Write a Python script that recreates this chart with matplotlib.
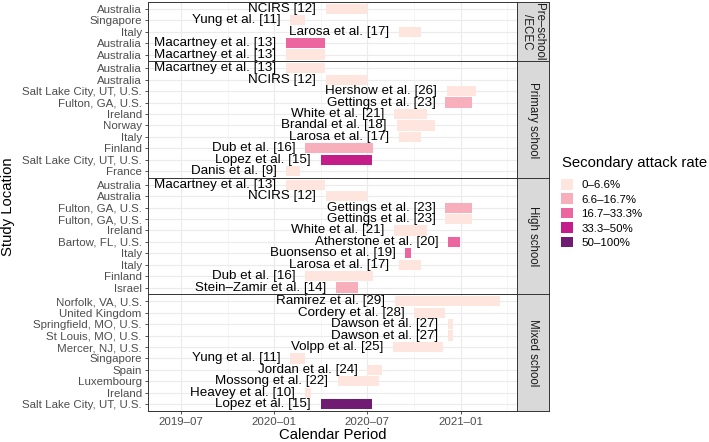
import matplotlib
matplotlib.use("Agg")
import matplotlib.pyplot as plt
import matplotlib.dates as mdates
from matplotlib.patches import Patch
import pandas as pd

plt.rcParams['font.family'] = ['Liberation Sans', 'DejaVu Sans']

# Secondary attack rate classes and colours
sar_levels = ['0–6.6%', '6.6–16.7%', '16.7–33.3%', '33.3–50%', '50–100%']
sar_colors = ['#FEE5DE', '#F7AFBB', '#EC659F', '#C41D8A', '#701C73']

facet_names = ['Pre–school\n/ECEC', 'Primary school', 'High school', 'Mixed school']

# Pre-school / ECEC
pre_loc = ['Australia', 'Singapore', 'Italy', 'Australia', 'Australia']
pre_study = ['NCIRS [12]', 'Yung et al. [11]', 'Larosa et al. [17]',
             'Macartney et al. [13]', 'Macartney et al. [13]']
pre_start = ['2020-04-11', '2020-02-01', '2020-09-01', '2020-01-24', '2020-01-24']
pre_end = ['2020-07-01', '2020-03-01', '2020-10-14', '2020-04-09', '2020-04-09']
pre_sar = ['0–6.6%', '0–6.6%', '0–6.6%', '16.7–33.3%', '0–6.6%']

# Primary school
pri_loc = ['Australia', 'Australia', 'Salt Lake City, UT, U.S.', 'Fulton, GA, U.S.',
           'Ireland', 'Norway', 'Italy', 'Finland', 'Salt Lake City, UT, U.S.', 'France']
pri_study = ['Macartney et al. [13]', 'NCIRS [12]', 'Hershow et al. [26]',
             'Gettings et al. [23]', 'White et al. [21]', 'Brandal et al. [18]',
             'Larosa et al. [17]', 'Dub et al. [16]', 'Lopez et al. [15]', 'Danis et al. [9]']
pri_start = ['2020-01-24', '2020-04-11', '2020-12-04', '2020-12-01', '2020-08-22',
             '2020-08-28', '2020-09-01', '2020-03-01', '2020-04-01', '2020-01-24']
pri_end = ['2020-04-09', '2020-07-01', '2021-01-30', '2021-01-22', '2020-10-27',
           '2020-11-11', '2020-10-14', '2020-07-12', '2020-07-10', '2020-02-21']
pri_sar = ['0–6.6%', '0–6.6%', '0–6.6%', '6.6–16.7%', '0–6.6%',
           '0–6.6%', '0–6.6%', '6.6–16.7%', '33.3–50%', '0–6.6%']

# High school
hs_loc = ['Australia', 'Australia', 'Fulton, GA, U.S.', 'Fulton, GA, U.S.', 'Ireland',
          'Bartow, FL, U.S.', 'Italy', 'Italy', 'Finland', 'Israel']
hs_study = ['Macartney et al. [13]', 'NCIRS [12]', 'Gettings et al. [23]',
            'Gettings et al. [23]', 'White et al. [21]', 'Atherstone et al. [20]',
            'Buonsenso et al. [19]', 'Larosa et al. [17]', 'Dub et al. [16]',
            'Stein–Zamir et al. [14]']
hs_start = ['2020-01-24', '2020-04-11', '2020-12-01', '2020-12-01', '2020-08-22',
            '2020-12-07', '2020-09-14', '2020-09-01', '2020-03-01', '2020-05-01']
hs_end = ['2020-04-09', '2020-07-01', '2021-01-22', '2021-01-22', '2020-10-27',
          '2020-12-31', '2020-09-26', '2020-10-14', '2020-07-12', '2020-06-13']
hs_sar = ['0–6.6%', '0–6.6%', '6.6–16.7%', '0–6.6%', '0–6.6%',
          '16.7–33.3%', '16.7–33.3%', '0–6.6%', '0–6.6%', '6.6–16.7%']

# Mixed school
mix_loc = ['Norfolk, VA, U.S.', 'United Kingdom', 'Springfield, MO, U.S.',
           'St Louis, MO, U.S.', 'Mercer, NJ, U.S.', 'Singapore', 'Spain',
           'Luxembourg', 'Ireland', 'Salt Lake City, UT, U.S.']
mix_study = ['Ramirez et al. [29]', 'Cordery et al. [28]', 'Dawson et al. [27]',
             'Dawson et al. [27]', 'Volpp et al. [25]', 'Yung et al. [11]',
             'Jordan et al. [24]', 'Mossong et al. [22]', 'Heavey et al. [10]',
             'Lopez et al. [15]']
mix_start = ['2020-08-24', '2020-10-01', '2020-12-07', '2020-12-07', '2020-08-20',
             '2020-02-01', '2020-07-01', '2020-05-04', '2020-03-01', '2020-04-01']
mix_end = ['2021-03-18', '2020-11-30', '2020-12-17', '2020-12-17', '2020-11-26',
           '2020-03-01', '2020-07-31', '2020-07-25', '2020-03-12', '2020-07-10']
mix_sar = ['0–6.6%', '0–6.6%', '0–6.6%', '0–6.6%', '0–6.6%',
           '0–6.6%', '0–6.6%', '0–6.6%', '0–6.6%', '50–100%']

panels = [
    (pre_loc, pre_study, pre_start, pre_end, pre_sar),
    (pri_loc, pri_study, pri_start, pri_end, pri_sar),
    (hs_loc, hs_study, hs_start, hs_end, hs_sar),
    (mix_loc, mix_study, mix_start, mix_end, mix_sar),
]

major_ticks = ['2019-07-01', '2020-01-01', '2020-07-01', '2021-01-01']
minor_ticks = ['2019-10-01', '2020-04-01', '2020-10-01', '2021-04-01']
x_limits = ['2019-04-28', '2021-04-21']

color_of = dict(zip(sar_levels, sar_colors))

W, H = 709, 442
fig = plt.figure(figsize=(W / 100, H / 100), dpi=100)

left, right, top, bottom = 148, 517, 2, 411
strip_w = 32
units = [len(p[0]) + 0.2 for p in panels]
px_per_unit = (bottom - top) / sum(units)

xlo, xhi = mdates.date2num(pd.to_datetime(x_limits))
edge = '#333333'

y_cur = top
for k, (loc, study, start, end, sar) in enumerate(panels):
    h = units[k] * px_per_unit
    ax = fig.add_axes([left / W, 1 - (y_cur + h) / H, (right - left) / W, h / H])
    s = mdates.date2num(pd.to_datetime(start))
    e = mdates.date2num(pd.to_datetime(end))
    n = len(loc)
    ax.set_axisbelow(True)
    ax.barh(range(n), e - s, left=s, height=0.9,
            color=[color_of[c] for c in sar], linewidth=0, zorder=2)
    for i in range(n):
        ax.annotate(study[i], xy=(s[i], i), xytext=(-7, 0), textcoords='offset points',
                    ha='right', va='center', fontsize=9.6, color='black', zorder=3)
    ax.set_ylim(n - 1 + 0.6, -0.6)
    ax.set_xlim(xlo, xhi)
    ax.set_yticks(range(n))
    ax.set_yticklabels(loc, fontsize=8.25, color='#4D4D4D')
    ax.set_xticks(mdates.date2num(pd.to_datetime(major_ticks)))
    ax.set_xticks(mdates.date2num(pd.to_datetime(minor_ticks)), minor=True)
    ax.grid(True, which='major', color='#EBEBEB', linewidth=0.8)
    ax.grid(True, which='minor', axis='x', color='#F2F2F2', linewidth=0.5)
    ax.tick_params(axis='y', length=2.5, width=0.6, color=edge, pad=2)
    ax.tick_params(axis='x', which='minor', length=0)
    if k == len(panels) - 1:
        ax.set_xticklabels([d[:7].replace('-', '–') for d in major_ticks],
                           fontsize=8.25, color='#4D4D4D')
        ax.tick_params(axis='x', which='major', length=2.5, width=0.6, color=edge, pad=2)
    else:
        ax.set_xticklabels([])
        ax.tick_params(axis='x', which='major', length=0)
    for sp in ax.spines.values():
        sp.set_color(edge)
        sp.set_linewidth(0.7)

    # facet strip
    sax = fig.add_axes([right / W, 1 - (y_cur + h) / H, strip_w / W, h / H])
    sax.set_facecolor('#D9D9D9')
    sax.set_xticks([])
    sax.set_yticks([])
    for sp in sax.spines.values():
        sp.set_color(edge)
        sp.set_linewidth(0.7)
    sax.text(0.5, 0.5, facet_names[k], rotation=-90, ha='center', va='center',
             fontsize=8.3, color='#1A1A1A', transform=sax.transAxes, linespacing=0.9)
    y_cur += h

fig.text(8 / W, 1 - (top + bottom) / 2 / H, 'Study Location', rotation=90,
         ha='center', va='center', fontsize=10.7)
fig.text((left + right) / 2 / W, 1 - 435 / H, 'Calendar Period',
         ha='center', va='center', fontsize=10.7)

# legend
fig.text(562 / W, 1 - 163 / H, 'Secondary attack rate', ha='left', va='center',
         fontsize=10.7)
handles = [Patch(facecolor=c, edgecolor='none') for c in sar_colors]
fig.legend(handles, sar_levels, loc='upper left',
           bbox_to_anchor=(561 / W, 1 - 179 / H), frameon=False, fontsize=8.25,
           handlelength=1.05, handleheight=1.05,
           handletextpad=0.75, labelspacing=0.28,
           borderpad=0, borderaxespad=0)

fig.savefig('out.png', dpi=100)
